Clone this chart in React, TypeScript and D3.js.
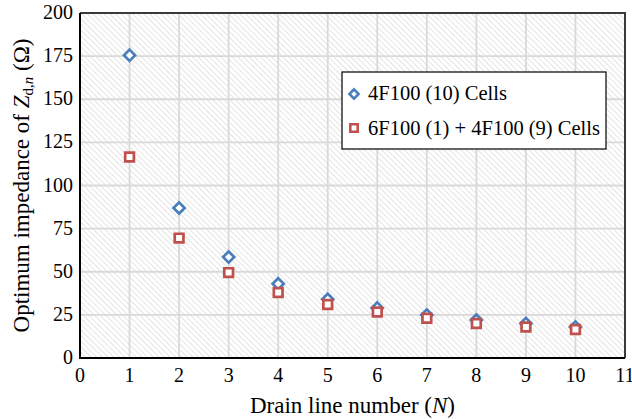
import React from "react";
import * as d3 from "d3";

const drainLines = [1, 2, 3, 4, 5, 6, 7, 8, 9, 10];
const cells4F100 = [175.5, 87, 58.5, 43, 34, 29, 25, 22, 20, 18];
const cells6F100 = [116.5, 69.5, 49.5, 38, 31, 26.7, 23, 20, 18, 16.5];
const xTicks = [0, 1, 2, 3, 4, 5, 6, 7, 8, 9, 10, 11];
const yTicks = [0, 25, 50, 75, 100, 125, 150, 175, 200];
const legendLabels = ["4F100 (10) Cells", "6F100 (1) + 4F100 (9) Cells"];

const W = 632;
const H = 419;
const margin = { top: 13, right: 7, bottom: 61, left: 80 };
const blue = "#4a7ebb";
const red = "#c0504d";
const serif = { fontFamily: "Liberation Serif, serif" };

export default function App() {
  const width = W - margin.left - margin.right;
  const height = H - margin.top - margin.bottom;

  const x = d3.scaleLinear().domain([0, 11]).range([0, width]);
  const y = d3.scaleLinear().domain([0, 200]).range([height, 0]);

  // diamond and square markers
  const diamond = d3.symbol().type(d3.symbolSquare).size(62)();
  const square = d3.symbol().type(d3.symbolSquare).size(76)();

  return (
    <svg
      width={W}
      height={H}
      style={{ position: "absolute", left: 0, top: 0, background: "#fff", ...serif }}
    >
      <defs>
        <pattern
          id="hatch"
          width="4"
          height="4"
          patternUnits="userSpaceOnUse"
          patternTransform="rotate(-45)"
        >
          <rect width="4" height="4" fill="#fff" />
          <line x1="0" y1="0" x2="0" y2="4" stroke="#dedede" strokeWidth="1.6" />
        </pattern>
      </defs>
      <g transform={`translate(${margin.left},${margin.top})`}>
        <rect width={width} height={height} fill="url(#hatch)" />

        {/* grid */}
        {xTicks.slice(1, -1).map((t) => (
          <line
            key={"gx" + t}
            x1={x(t)}
            x2={x(t)}
            y1={0}
            y2={height}
            stroke="#d9d9d9"
            strokeWidth={1.8}
          />
        ))}
        {yTicks.slice(1, -1).map((t) => (
          <line
            key={"gy" + t}
            x1={0}
            x2={width}
            y1={y(t)}
            y2={y(t)}
            stroke="#d9d9d9"
            strokeWidth={1.8}
          />
        ))}

        {/* frame */}
        <path
          d={`M0,0H${width}V${height}`}
          fill="none"
          stroke="#3a3a3a"
          strokeWidth={2}
        />
        <path
          d={`M0,0V${height}H${width}`}
          fill="none"
          stroke="#000"
          strokeWidth={2}
        />

        {/* tick labels */}
        {xTicks.map((t) => (
          <text
            key={"tx" + t}
            x={x(t)}
            y={height + 24}
            textAnchor="middle"
            fontSize={20}
            fill="#000"
            style={serif}
          >
            {t}
          </text>
        ))}
        {yTicks.map((t) => (
          <text
            key={"ty" + t}
            x={-7}
            y={y(t) + 6}
            textAnchor="end"
            fontSize={20}
            fill="#000"
            style={serif}
          >
            {t}
          </text>
        ))}

        {/* series */}
        {drainLines.map((n, i) => (
          <path
            key={"b" + n}
            d={diamond}
            transform={`translate(${x(n)},${y(cells4F100[i])}) rotate(45)`}
            fill="#fff"
            stroke={blue}
            strokeWidth={2.7}
          />
        ))}
        {drainLines.map((n, i) => (
          <path
            key={"r" + n}
            d={square}
            transform={`translate(${x(n)},${y(cells6F100[i])})`}
            fill="#fff"
            stroke={red}
            strokeWidth={2.7}
          />
        ))}

        {/* legend */}
        <g transform={`translate(${342 - margin.left},${72 - margin.top})`}>
          <rect width={264} height={77} fill="#fff" stroke="#000" strokeWidth={1.2} />
          <path
            d={d3.symbol().type(d3.symbolSquare).size(42)()}
            transform="translate(12,22) rotate(45)"
            fill="#fff"
            stroke={blue}
            strokeWidth={2.6}
          />
          <text x={26} y={28} fontSize={20.5} fill="#000" style={serif}>
            {legendLabels[0]}
          </text>
          <path
            d={d3.symbol().type(d3.symbolSquare).size(55)()}
            transform="translate(12,56)"
            fill="#fff"
            stroke={red}
            strokeWidth={2.6}
          />
          <text x={26} y={63} fontSize={20.5} fill="#000" style={serif}>
            {legendLabels[1]}
          </text>
        </g>

        {/* axis titles */}
        <text
          x={width / 2}
          y={height + 55}
          textAnchor="middle"
          fontSize={23}
          fill="#000"
          style={serif}
        >
          Drain line number (<tspan fontStyle="italic">N</tspan>)
        </text>
        <text
          transform={`translate(${29 - margin.left},${height / 2}) rotate(-90)`}
          textAnchor="middle"
          fontSize={23}
          fill="#000"
          style={serif}
        >
          Optimum impedance of <tspan fontStyle="italic">Z</tspan>
          <tspan fontSize={15} dy={4}>
            d,<tspan fontStyle="italic">n</tspan>
          </tspan>
          <tspan dy={-4}> (Ω)</tspan>
        </text>
      </g>
    </svg>
  );
}
